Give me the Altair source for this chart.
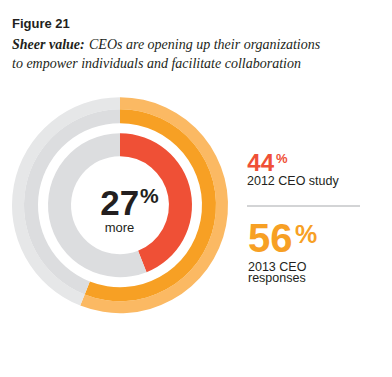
import altair as alt
import pandas as pd

# ---- data ----
ring_cats = ["share", "rest"]
ring_order = [0, 1]
share_2013 = [56, 44]          # outer ring: 2013 CEO responses
share_2012 = [44, 56]          # inner ring: 2012 CEO study
more_value = ["27"]
pct_2012 = ["44"]
pct_2013 = ["56"]
label_2012 = ["2012 CEO study"]
label_2013 = ["2013 CEO\nresponses"]
fig_title = ["Figure 21"]
sub_bold = ["Sheer value:"]
sub_line1 = ["CEOs are opening up their organizations"]
sub_line2 = ["to empower individuals and facilitate collaboration"]

DARK = "#231F20"
RED = "#EF5036"
ORANGE = "#F7A024"
LIGHT_ORANGE = "#FBB963"
GRAY = "#DCDDDF"
LIGHT_GRAY = "#E6E7E8"
SANS = "Liberation Sans"
SERIF = "Liberation Serif"

CX, CY = 112, 197.2

df_outer = pd.DataFrame({"cat": ring_cats, "value": share_2013, "ord": ring_order})
df_inner = pd.DataFrame({"cat": ring_cats, "value": share_2012, "ord": ring_order})


def ring(df, r_out, r_in, colors):
    return alt.Chart(df).mark_arc(outerRadius=r_out, innerRadius=r_in).encode(
        theta=alt.Theta("value:Q", stack=True, scale=alt.Scale(domain=[0, 100])),
        color=alt.Color("cat:N", scale=alt.Scale(domain=ring_cats, range=colors), legend=None),
        order=alt.Order("ord:Q"),
        x=alt.value(CX),
        y=alt.value(CY),
    )


def txt(values, x, y, size, color=DARK, weight="normal", align="left",
        font=SANS, style="normal", **kw):
    return alt.Chart(pd.DataFrame({"t": values})).mark_text(
        align=align, baseline="alphabetic", fontSize=size, font=font,
        fontWeight=weight, fontStyle=style, color=color, **kw
    ).encode(text="t:N", x=alt.value(x), y=alt.value(y))


layers = [
    ring(df_outer, 108, 96, [LIGHT_ORANGE, LIGHT_GRAY]),
    ring(df_outer, 96, 82, [ORANGE, GRAY]),
    ring(df_inner, 72, 49, [RED, GRAY]),
    # titles
    txt(fig_title, 4, 20.3, 13, weight="bold"),
    txt(sub_bold, 4, 41.3, 14, weight="bold", font=SERIF, style="italic"),
    txt(sub_line1, 81, 41.3, 14, font=SERIF, style="italic"),
    txt(sub_line2, 4, 59.7, 14, font=SERIF, style="italic"),
    # center
    txt(more_value, 131.3, 207, 35, weight="bold", align="right"),
    txt(["%"], 132, 195.3, 21, weight="bold"),
    txt(["more"], 111.5, 223.5, 13, align="center"),
    # right annotations
    txt(pct_2012, 239.3, 163, 24, color=RED, weight="bold"),
    txt(["%"], 268, 155.3, 13, color=RED, weight="bold"),
    txt(label_2012, 239, 177, 12.5),
    alt.Chart(pd.DataFrame({"a": [0]})).mark_rule(color="#A7A9AC", strokeWidth=1).encode(
        x=alt.value(239), x2=alt.value(352), y=alt.value(198)
    ),
    txt(pct_2013, 240, 243.7, 40, color=ORANGE, weight="bold"),
    txt(["%"], 287, 235.3, 25, color=ORANGE, weight="bold"),
    txt(label_2013, 240, 263, 12.5, lineBreak="\n", lineHeight=10.7),
]

chart = alt.layer(*layers).resolve_scale(color="independent").properties(
    width=376, height=361, autosize="none", padding=0
).configure_view(stroke=None)

chart.save("out.html", embed_options={"renderer": "svg", "actions": False})
